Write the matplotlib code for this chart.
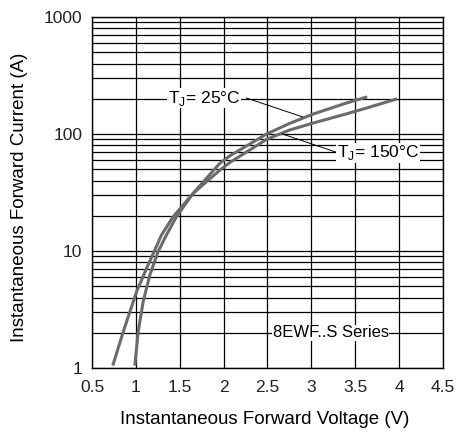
import numpy as np
import matplotlib
matplotlib.use("Agg")
import matplotlib.pyplot as plt

plt.rcParams['font.family'] = ['Liberation Sans', 'DejaVu Sans']
plt.rcParams['mathtext.fontset'] = 'custom'
plt.rcParams['mathtext.rm'] = 'Liberation Sans'

# Tj = 25 C curve
v_25 = [0.99, 1.026, 1.083, 1.159, 1.253, 1.348, 1.462, 1.651, 1.955, 2.07, 2.49, 2.75, 3.02, 3.39, 3.62]
i_25 = [1.08, 2.04, 3.69, 6.24, 9.86, 13.7, 19.6, 31, 56, 65, 100, 123, 148, 183, 206]

# Tj = 150 C curve
v_150 = [0.742, 0.856, 1.008, 1.122, 1.216, 1.292, 1.424, 1.651, 1.955, 2.07, 2.49, 2.75, 3.02, 3.39, 3.62, 3.96]
i_150 = [1.08, 2.04, 4.49, 7.11, 10.2, 13.7, 19.6, 31, 49, 57, 90, 108, 124, 148, 166, 198]

x_ticks = [0.5, 1, 1.5, 2, 2.5, 3, 3.5, 4, 4.5]
x_tick_labels = ['0.5', '1', '1.5', '2', '2.5', '3', '3.5', '4', '4.5']
y_ticks = [1, 10, 100, 1000]
y_tick_labels = ['1', '10', '100', '1000']

fig = plt.figure(figsize=(4.55, 4.37), dpi=100)
ax = fig.add_axes([0.2022, 0.1579, 0.7714, 0.8032])

ax.set_yscale('log')
ax.set_xlim(0.5, 4.5)
ax.set_ylim(1, 1000)

# grid: every 0.5 V and every minor decade step
ax.set_xticks(x_ticks)
ax.set_xticklabels(x_tick_labels)
ax.set_yticks(y_ticks)
ax.set_yticklabels(y_tick_labels)
ax.yaxis.set_minor_locator(matplotlib.ticker.LogLocator(base=10, subs=np.arange(2, 10)))
ax.yaxis.set_minor_formatter(matplotlib.ticker.NullFormatter())
ax.grid(True, which='major', color='black', lw=0.9)
ax.grid(True, which='minor', axis='y', color='black', lw=0.9)
ax.tick_params(which='both', length=0, labelsize=12.5, colors='#222222')
ax.tick_params(axis='x', pad=9)
ax.tick_params(axis='y', pad=7)
for s in ax.spines.values():
    s.set_linewidth(1.0)

# curves
ax.plot(v_25, i_25, color='#6b6b6b', lw=2.2, zorder=3, solid_joinstyle='round')
ax.plot(v_150, i_150, color='#6b6b6b', lw=2.2, zorder=3, solid_joinstyle='round')

# labels with leader lines
ax.plot([2.26, 2.90], [203, 140], color='black', lw=0.7, zorder=3)
ax.plot([2.67, 3.28], [100, 70], color='black', lw=0.7, zorder=3)
box = dict(facecolor='white', edgecolor='none', pad=0.5)
ax.text(1.78, 203, 'T$_{\\rm J}$= 25°C', fontsize=12.5, ha='center', va='center', bbox=box, zorder=4)
ax.text(3.76, 69, 'T$_{\\rm J}$= 150°C', fontsize=12.5, ha='center', va='center', bbox=box, zorder=4)
ax.text(3.22, 2.0, '8EWF..S Series', fontsize=12, ha='center', va='center', bbox=box, zorder=4)

fig.text(265 / 455, 1 - 420 / 437, 'Instantaneous Forward Voltage (V)', fontsize=13.5,
         ha='center', va='center')
fig.text(20 / 455, 1 - 197 / 437, 'Instantaneous Forward Current (A)', fontsize=13.5,
         ha='center', va='center', rotation=90)

fig.savefig('out.png', dpi=100)
